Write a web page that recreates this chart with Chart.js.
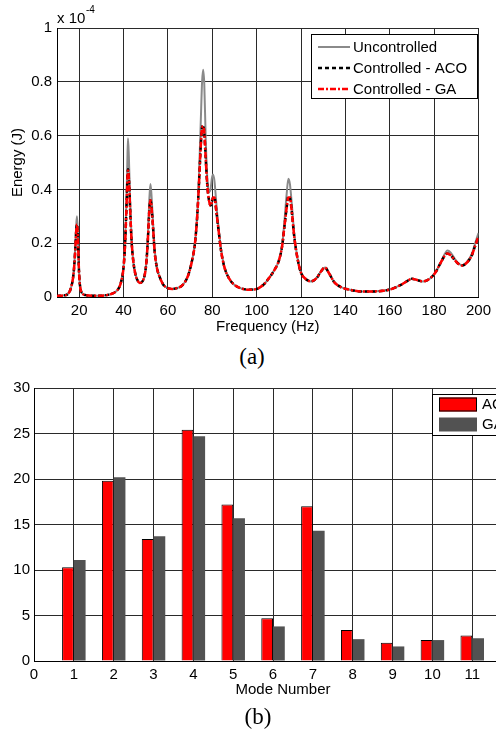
<!DOCTYPE html>
<html>
<head>
<meta charset="utf-8">
<script src="https://cdn.jsdelivr.net/npm/chart.js@4.4.1/dist/chart.umd.min.js"></script>
<style>
  body { margin: 0; background: #fff; overflow: hidden; width: 496px; height: 733px; position: relative; }
  canvas { position: absolute; left: 0; }
  .cap { position: absolute; font-family: "Liberation Serif", "Times New Roman", serif; font-size: 23px; transform: translate(-50%, -50%); color: #000; }
</style>
</head>
<body>
<canvas id="energy" width="496" height="340" style="top:0"></canvas>
<div class="cap" style="left:252px;top:357px">(a)</div>
<canvas id="modes" width="560" height="335" style="top:370px"></canvas>
<div class="cap" style="left:258px;top:717px">(b)</div>
<script>
// (a) energy vs frequency, values in units of 1e-4 J
const freq = [10, 13, 15, 16.5, 17.5, 18.2, 18.7, 19, 19.4, 20, 20.6, 21.5, 23, 26, 30, 33, 35, 36.5, 38, 39,
  40, 40.7, 41.3, 41.7, 42, 42.4, 43, 43.6, 44.3, 45.2, 46.3, 47.3, 48.5, 49.5, 50.3, 51, 51.6, 52.1, 52.5, 53.2,
  54, 55, 56.5, 58, 60, 62, 64, 66, 68, 69.5, 71, 72.2, 73.2, 74, 74.8, 75.4, 75.9, 76.4, 77, 77.7,
  78.5, 79.2, 79.8, 80.3, 81, 81.8, 82.8, 84, 85.5, 87.5, 90, 93, 96, 100, 103, 106, 108, 110, 111.5, 112.5,
  113.5, 114.3, 115, 115.8, 117, 118.5, 120, 122, 124.5, 127, 129, 130.8, 132.5, 135, 138, 142, 148, 154, 160, 165,
  168, 170, 172, 175, 178, 180.5, 182.5, 184.5, 186, 187.5, 189.5, 192.5, 195, 197, 198.5, 200];

const uncontrolled = [0.004, 0.006, 0.012, 0.04, 0.09, 0.18, 0.27, 0.30, 0.24, 0.085, 0.03, 0.013, 0.007, 0.005, 0.005, 0.008, 0.013, 0.02, 0.035, 0.06,
  0.11, 0.2, 0.35, 0.5, 0.59, 0.52, 0.35, 0.22, 0.14, 0.09, 0.062, 0.052, 0.058, 0.08, 0.13, 0.23, 0.36, 0.42, 0.39, 0.29,
  0.18, 0.11, 0.07, 0.045, 0.033, 0.03, 0.033, 0.04, 0.06, 0.09, 0.14, 0.2, 0.3, 0.45, 0.65, 0.8, 0.845, 0.79, 0.6, 0.45,
  0.39, 0.40, 0.44, 0.455, 0.43, 0.35, 0.26, 0.175, 0.11, 0.07, 0.045, 0.032, 0.027, 0.03, 0.045, 0.075, 0.1, 0.135, 0.19, 0.28,
  0.38, 0.44, 0.42, 0.35, 0.23, 0.14, 0.09, 0.068, 0.058, 0.07, 0.095, 0.11, 0.09, 0.055, 0.037, 0.027, 0.02, 0.021, 0.028, 0.045,
  0.06, 0.068, 0.064, 0.058, 0.068, 0.09, 0.12, 0.155, 0.173, 0.165, 0.14, 0.118, 0.132, 0.16, 0.2, 0.238];

const aco = [0.004, 0.006, 0.012, 0.04, 0.09, 0.17, 0.25, 0.27, 0.22, 0.08, 0.03, 0.013, 0.007, 0.005, 0.005, 0.008, 0.013, 0.02, 0.035, 0.06,
  0.11, 0.2, 0.33, 0.43, 0.475, 0.44, 0.32, 0.21, 0.14, 0.09, 0.062, 0.052, 0.058, 0.08, 0.13, 0.22, 0.32, 0.36, 0.345, 0.27,
  0.17, 0.11, 0.07, 0.045, 0.033, 0.03, 0.033, 0.04, 0.06, 0.09, 0.14, 0.2, 0.3, 0.42, 0.56, 0.63, 0.64, 0.61, 0.52, 0.42,
  0.36, 0.34, 0.35, 0.37, 0.37, 0.32, 0.25, 0.17, 0.11, 0.07, 0.045, 0.032, 0.027, 0.03, 0.045, 0.075, 0.1, 0.135, 0.19, 0.26,
  0.33, 0.375, 0.37, 0.32, 0.22, 0.14, 0.09, 0.068, 0.058, 0.07, 0.095, 0.11, 0.09, 0.055, 0.037, 0.027, 0.02, 0.021, 0.028, 0.045,
  0.06, 0.068, 0.064, 0.058, 0.068, 0.09, 0.12, 0.15, 0.162, 0.155, 0.135, 0.117, 0.13, 0.155, 0.19, 0.225];

const ga = [0.004, 0.006, 0.012, 0.04, 0.09, 0.17, 0.25, 0.27, 0.22, 0.08, 0.03, 0.013, 0.007, 0.005, 0.005, 0.008, 0.013, 0.02, 0.035, 0.06,
  0.11, 0.2, 0.33, 0.43, 0.47, 0.44, 0.32, 0.21, 0.14, 0.09, 0.062, 0.052, 0.058, 0.08, 0.13, 0.22, 0.32, 0.36, 0.345, 0.27,
  0.17, 0.11, 0.07, 0.045, 0.033, 0.03, 0.033, 0.04, 0.06, 0.09, 0.14, 0.2, 0.3, 0.42, 0.56, 0.63, 0.635, 0.61, 0.52, 0.42,
  0.36, 0.34, 0.35, 0.37, 0.37, 0.32, 0.25, 0.17, 0.11, 0.07, 0.045, 0.032, 0.027, 0.03, 0.045, 0.075, 0.1, 0.135, 0.19, 0.26,
  0.33, 0.37, 0.37, 0.32, 0.22, 0.14, 0.09, 0.068, 0.058, 0.07, 0.095, 0.11, 0.09, 0.055, 0.037, 0.027, 0.02, 0.021, 0.028, 0.045,
  0.06, 0.068, 0.064, 0.058, 0.068, 0.09, 0.12, 0.15, 0.162, 0.155, 0.135, 0.117, 0.13, 0.155, 0.19, 0.225];

// (b) reduction per mode
const modes = [1, 2, 3, 4, 5, 6, 7, 8, 9, 10, 11];
const acoBars = [10.3, 19.8, 13.4, 25.4, 17.2, 4.7, 17.0, 3.4, 2.0, 2.3, 2.8];
const gaBars = [11.1, 20.2, 13.7, 24.7, 15.7, 3.8, 14.3, 2.4, 1.6, 2.3, 2.5];

Chart.defaults.font.family = '"Liberation Sans", Arial, Helvetica, sans-serif';
Chart.defaults.font.size = 15;
Chart.defaults.color = '#000';

const gridColor = '#2a2a2a';
const pts = vals => freq.map((f, i) => ({ x: f, y: vals[i] }));

// legend box + "x 10^-4" label for (a)
const energyExtras = {
  id: 'energyExtras',
  afterDraw(chart) {
    const ctx = chart.ctx;
    ctx.save();
    ctx.fillStyle = '#000';
    ctx.font = '15px "Liberation Sans", Arial, sans-serif';
    ctx.textBaseline = 'alphabetic';
    ctx.fillText('x 10', 57, 23);
    ctx.font = '10px "Liberation Sans", Arial, sans-serif';
    ctx.fillText('-4', 86, 13);

    ctx.fillStyle = '#fff';
    ctx.fillRect(311, 34, 167, 65);
    ctx.strokeStyle = '#000';
    ctx.lineWidth = 1;
    ctx.strokeRect(311.5, 34.5, 166, 64);
    ctx.font = '15px "Liberation Sans", Arial, sans-serif';
    ctx.textBaseline = 'middle';
    chart.data.datasets.forEach((ds, i) => {
      const y = 47 + i * 21;
      ctx.setLineDash(ds.borderDash || []);
      ctx.strokeStyle = ds.borderColor;
      ctx.lineWidth = ds.borderWidth;
      ctx.beginPath();
      ctx.moveTo(318, y);
      ctx.lineTo(350, y);
      ctx.stroke();
      ctx.setLineDash([]);
      ctx.fillStyle = '#000';
      ctx.fillText(ds.label, 353, y + 1);
    });
    ctx.restore();
  }
};

new Chart(document.getElementById('energy'), {
  type: 'line',
  data: {
    datasets: [
      { label: 'Uncontrolled', data: pts(uncontrolled), borderColor: '#8a8a8a', borderWidth: 2, pointRadius: 0, order: 2, cubicInterpolationMode: 'monotone' },
      { label: 'Controlled - ACO', data: pts(aco), borderColor: '#000000', borderWidth: 2.5, borderDash: [4, 3], pointRadius: 0, order: 1, cubicInterpolationMode: 'monotone' },
      { label: 'Controlled - GA', data: pts(ga), borderColor: '#ff0000', borderWidth: 2.5, borderDash: [6, 2, 2, 2], pointRadius: 0, order: 0, cubicInterpolationMode: 'monotone' }
    ]
  },
  options: {
    responsive: false,
    animation: false,
    layout: { padding: { top: 28, right: 13, bottom: 0, left: 0 } },
    plugins: { legend: { display: false }, tooltip: { enabled: false } },
    scales: {
      x: {
        type: 'linear', min: 10, max: 200,
        ticks: { stepSize: 10, padding: 5, maxRotation: 0, autoSkip: false,
          callback: v => (v % 20 === 0 ? String(v) : '') },
        afterFit: s => { s.height = 43; },
        grid: { color: ctx => (ctx.tick && ctx.tick.value % 20 === 0 ? gridColor : 'rgba(0,0,0,0)'), drawTicks: false },
        border: { color: '#000' },
        title: { display: true, text: 'Frequency (Hz)', padding: { top: 0, bottom: 4 } }
      },
      y: {
        min: 0, max: 1,
        ticks: { stepSize: 0.2, padding: 5, callback: v => String(Math.round(v * 10) / 10) },
        afterFit: s => { s.width = 57; },
        grid: { color: gridColor, drawTicks: false },
        border: { color: '#000' },
        title: { display: true, text: 'Energy (J)', padding: { top: 9, bottom: 0 } }
      }
    }
  },
  plugins: [energyExtras]
});

// legend box for (b), runs past the right edge like the original
const modeLegend = {
  id: 'modeLegend',
  afterDraw(chart) {
    const ctx = chart.ctx;
    ctx.save();
    ctx.fillStyle = '#fff';
    ctx.fillRect(432, 24, 100, 42);
    ctx.strokeStyle = '#000';
    ctx.lineWidth = 1;
    ctx.strokeRect(432.5, 24.5, 100, 41);
    ctx.font = '15px "Liberation Sans", Arial, sans-serif';
    ctx.textBaseline = 'middle';
    chart.data.datasets.forEach((ds, i) => {
      const y = 27.5 + i * 20;
      ctx.fillStyle = ds.backgroundColor;
      ctx.fillRect(439, y, 38, 14);
      if (ds.borderWidth) {
        ctx.strokeStyle = ds.borderColor;
        ctx.strokeRect(439.5, y + 0.5, 37, 13);
      }
      ctx.fillStyle = '#000';
      ctx.fillText(ds.label, 482, y + 7.5);
    });
    ctx.restore();
  }
};

new Chart(document.getElementById('modes'), {
  type: 'bar',
  data: {
    datasets: [
      { label: 'ACO', data: modes.map((m, i) => ({ x: m, y: acoBars[i] })), backgroundColor: '#ff0000', borderColor: '#000', borderWidth: 1, borderSkipped: 'start' },
      { label: 'GA', data: modes.map((m, i) => ({ x: m, y: gaBars[i] })), backgroundColor: '#525252', borderWidth: 0 }
    ]
  },
  options: {
    responsive: false,
    animation: false,
    layout: { padding: { top: 18, right: 28, bottom: 0, left: 0 } },
    datasets: { bar: { categoryPercentage: 0.59, barPercentage: 1 } },
    plugins: { legend: { display: false }, tooltip: { enabled: false } },
    scales: {
      x: {
        type: 'linear', min: 0, max: 12.5, offset: false,
        ticks: { stepSize: 1, padding: 5, maxRotation: 0 },
        afterBuildTicks: s => { s.ticks = s.ticks.filter(t => Number.isInteger(t.value)); },
        afterFit: s => { s.height = 44; },
        grid: { color: gridColor, drawTicks: false, offset: false },
        border: { color: '#000' },
        title: { display: true, text: 'Mode Number', padding: { top: 0, bottom: 6 } }
      },
      y: {
        min: 0, max: 30,
        ticks: { stepSize: 5, padding: 4 },
        afterFit: s => { s.width = 34; },
        grid: { color: gridColor, drawTicks: false },
        border: { color: '#000' }
      }
    }
  },
  plugins: [modeLegend]
});
</script>
</body>
</html>
